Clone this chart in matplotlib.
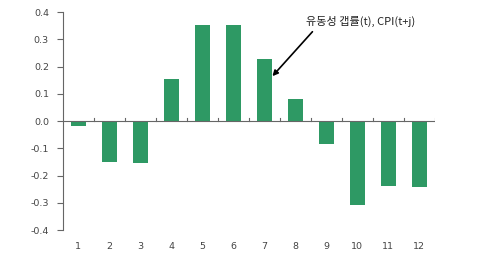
import matplotlib
matplotlib.use("Agg")
import matplotlib.pyplot as plt

plt.rcParams['font.family'] = ['DejaVu Sans', 'Noto Sans CJK KR']

categories = [str(i) for i in range(1, 13)]
values = [-0.018, -0.149, -0.154, 0.154, 0.352, 0.352, 0.227, 0.081, -0.085, -0.307, -0.237, -0.240]
yticks = [-0.4, -0.3, -0.2, -0.1, 0.0, 0.1, 0.2, 0.3, 0.4]
label = "유동성 갭률(t), CPI(t+j)"

fig = plt.figure(figsize=(4.8, 2.63), dpi=100)
ax = fig.add_axes([0.131, 0.125, 0.775, 0.829])
x = list(range(1, 13))
ax.bar(x, values, width=0.48, color='#2e9964', zorder=2)

ax.set_xlim(0.5, 12.5)
ax.set_ylim(-0.4, 0.4)
ax.set_yticks(yticks)
ax.set_yticklabels([f"{v:.1f}" for v in yticks], fontsize=6.8, color='#444444')
for s in ['top', 'right', 'bottom']:
    ax.spines[s].set_visible(False)
ax.spines['left'].set_color('#666666')
ax.spines['left'].set_linewidth(0.8)
ax.tick_params(axis='y', length=4, width=0.8, color='#666666', pad=6)
ax.set_xticks([])
ax.axhline(0, color='#666666', lw=0.8, zorder=3)
for b in [i + 0.5 for i in range(1, 13)]:
    ax.plot([b, b], [0, 0.01], color='#666666', lw=0.8, zorder=3)
for xi, c in zip(x, categories):
    ax.text(xi, -0.445, c, ha='center', va='top', fontsize=6.8, color='#444444')

ax.text(10.1, 0.367, label, ha='center', va='center', fontsize=8.0,
        color='#222222', family=['Noto Sans CJK KR', 'DejaVu Sans'])
ax.annotate('', xy=(7.26, 0.165), xytext=(8.55, 0.328),
            arrowprops=dict(arrowstyle='-|>', color='black', lw=1.2,
                            shrinkA=0, shrinkB=0, mutation_scale=8))

fig.savefig("out.png", dpi=100)
